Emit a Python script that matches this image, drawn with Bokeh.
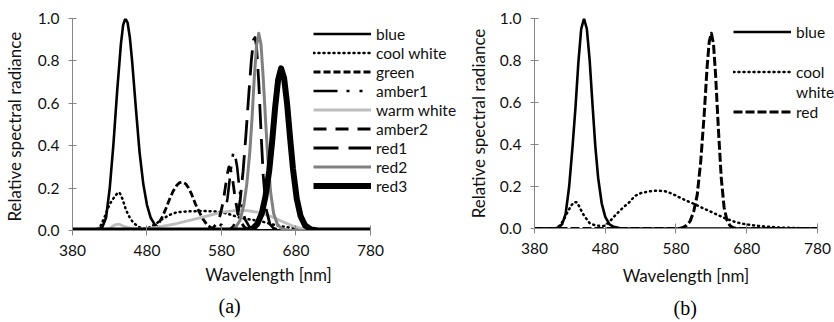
from bokeh.plotting import figure
from bokeh.models import Range1d, FixedTicker, PrintfTickFormatter, Legend, LegendItem, Title
from bokeh.layouts import row
from bokeh.embed import file_html
from bokeh.resources import INLINE

# ---------------- data: panel (a) ----------------
x_ticks = [380, 480, 580, 680, 780]
y_ticks = [0.0, 0.2, 0.4, 0.6, 0.8, 1.0]

a_labels = ["blue", "cool white", "green", "amber1", "warm white", "amber2", "red1", "red2", "red3"]

a_blue_x = [380, 410, 415, 420, 425, 430, 435, 440, 445, 448, 451, 454, 457, 460, 465, 470, 475, 480, 485, 490, 495, 500, 510, 780]
a_blue_y = [0, 0, 0.005, 0.015, 0.06, 0.2, 0.41, 0.66, 0.88, 0.97, 1.0, 0.98, 0.91, 0.8, 0.58, 0.37, 0.22, 0.12, 0.06, 0.03, 0.012, 0.005, 0, 0]

a_cool_x = [380, 410, 417, 423, 430, 436, 440, 443, 447, 452, 457, 462, 470, 478, 485, 492, 500, 510, 520, 535, 550, 565, 580, 592, 605, 618, 632, 645, 660, 675, 690, 705, 720, 750, 780]
a_cool_y = [0, 0, 0.016, 0.063, 0.125, 0.157, 0.175, 0.18, 0.15, 0.095, 0.06, 0.035, 0.015, 0.008, 0.017, 0.032, 0.052, 0.073, 0.086, 0.09, 0.092, 0.091, 0.087, 0.075, 0.06, 0.052, 0.045, 0.032, 0.02, 0.012, 0.007, 0.004, 0.002, 0, 0]

a_green_x = [380, 485, 490, 495, 500, 505, 510, 515, 520, 524, 528, 532, 536, 540, 545, 550, 555, 560, 565, 570, 580, 780]
a_green_y = [0, 0, 0.01, 0.03, 0.06, 0.1, 0.145, 0.185, 0.213, 0.226, 0.228, 0.22, 0.2, 0.17, 0.125, 0.088, 0.055, 0.03, 0.015, 0.006, 0, 0]

a_amber1_x = [380, 570, 575, 580, 584, 588, 591, 594, 596, 598, 601, 604, 608, 612, 617, 622, 630, 780]
a_amber1_y = [0, 0, 0.01, 0.03, 0.07, 0.15, 0.24, 0.33, 0.37, 0.36, 0.3, 0.2, 0.1, 0.05, 0.02, 0.008, 0, 0]

a_warm_x = [380, 420, 430, 437, 443, 450, 460, 470, 480, 490, 500, 520, 540, 560, 580, 600, 615, 630, 645, 660, 675, 690, 710, 740, 780]
a_warm_y = [0, 0, 0.01, 0.027, 0.03, 0.018, 0.008, 0.007, 0.009, 0.013, 0.019, 0.033, 0.05, 0.068, 0.085, 0.095, 0.094, 0.085, 0.068, 0.045, 0.022, 0.008, 0.002, 0, 0]

a_amber2_x = [380, 562, 568, 573, 578, 582, 585, 588, 590, 592, 595, 598, 602, 606, 611, 616, 625, 780]
a_amber2_y = [0, 0, 0.01, 0.03, 0.07, 0.13, 0.2, 0.27, 0.3, 0.29, 0.24, 0.16, 0.08, 0.04, 0.015, 0.005, 0, 0]

a_red1_x = [380, 590, 596, 601, 605, 609, 613, 617, 620, 623, 625, 627, 630, 633, 636, 640, 645, 650, 660, 780]
a_red1_y = [0, 0, 0.02, 0.06, 0.14, 0.28, 0.46, 0.66, 0.8, 0.9, 0.91, 0.87, 0.7, 0.47, 0.26, 0.1, 0.03, 0.01, 0, 0]

a_red2_x = [380, 595, 600, 605, 610, 614, 618, 621, 624, 627, 630, 633, 636, 639, 642, 646, 650, 655, 660, 670, 780]
a_red2_y = [0, 0, 0.02, 0.05, 0.12, 0.22, 0.37, 0.53, 0.72, 0.87, 0.93, 0.88, 0.72, 0.53, 0.35, 0.18, 0.08, 0.03, 0.01, 0, 0]

a_red3_x = [380, 615, 622, 628, 634, 639, 644, 648, 652, 656, 660, 664, 668, 672, 676, 681, 686, 692, 700, 710, 780]
a_red3_y = [0, 0, 0.01, 0.03, 0.08, 0.16, 0.28, 0.42, 0.58, 0.71, 0.765, 0.72, 0.6, 0.44, 0.29, 0.15, 0.07, 0.025, 0.005, 0, 0]

# ---------------- data: panel (b) ----------------
b_labels = ["blue", "cool", "white", "red"]

b_blue_x = [380, 408, 414, 419, 424, 429, 434, 438, 442, 446, 450, 454, 458, 462, 466, 470, 475, 480, 486, 492, 500, 510, 780]
b_blue_y = [0, 0, 0.005, 0.02, 0.07, 0.2, 0.4, 0.58, 0.79, 0.95, 1.0, 0.95, 0.8, 0.59, 0.39, 0.24, 0.12, 0.055, 0.02, 0.008, 0.002, 0, 0]

b_cool_x = [380, 410, 416, 421, 427, 432, 436, 440, 444, 448, 453, 458, 464, 471, 478, 485, 492, 500, 507, 514, 522, 530, 540, 550, 556, 565, 575, 585, 595, 605, 616, 628, 640, 652, 663, 675, 687, 700, 715, 730, 750, 780]
b_cool_y = [0, 0, 0.015, 0.04, 0.08, 0.11, 0.125, 0.125, 0.1, 0.072, 0.048, 0.025, 0.017, 0.013, 0.012, 0.028, 0.055, 0.083, 0.105, 0.125, 0.155, 0.168, 0.176, 0.18, 0.18, 0.177, 0.165, 0.148, 0.132, 0.118, 0.1, 0.082, 0.063, 0.045, 0.032, 0.022, 0.016, 0.011, 0.007, 0.004, 0.002, 0]

b_red_x = [380, 585, 590, 595, 600, 605, 610, 615, 620, 624, 627, 630, 633, 636, 640, 644, 648, 652, 656, 660, 665, 780]
b_red_y = [0, 0, 0.005, 0.015, 0.035, 0.08, 0.16, 0.32, 0.55, 0.77, 0.89, 0.93, 0.88, 0.73, 0.47, 0.24, 0.1, 0.04, 0.015, 0.005, 0, 0]

FONT = "Lato"
AXIS_GRAY = "#868686"
TXT = "#111111"


def style(p, ylabel, xl_standoff, yl_standoff):
    p.outline_line_color = None
    p.xgrid.visible = False
    p.ygrid.visible = False
    p.background_fill_color = "white"
    p.border_fill_color = "white"
    p.xaxis.ticker = FixedTicker(ticks=x_ticks)
    p.xaxis.bounds = (x_ticks[0], x_ticks[-1])
    p.yaxis.ticker = FixedTicker(ticks=y_ticks)
    p.yaxis.formatter = PrintfTickFormatter(format="%.1f")
    for ax in (p.xaxis[0], p.yaxis[0]):
        ax.axis_line_color = AXIS_GRAY
        ax.axis_line_width = 1
        ax.major_tick_line_color = AXIS_GRAY
        ax.minor_tick_line_color = None
        ax.major_label_text_font = FONT
        ax.major_label_text_font_size = "15.5px"
        ax.major_label_text_color = TXT
        ax.axis_label_text_font = FONT
        ax.axis_label_text_font_size = "17px"
        ax.axis_label_text_font_style = "normal"
        ax.axis_label_text_color = TXT
    p.xaxis.major_tick_in = 5
    p.xaxis.major_tick_out = 5
    p.yaxis.major_tick_in = 4
    p.yaxis.major_tick_out = 4
    p.xaxis.major_label_standoff = 9
    p.yaxis.major_label_standoff = 9
    p.xaxis.axis_label = "Wavelength [nm]"
    p.xaxis.axis_label_standoff = xl_standoff
    p.yaxis.axis_label = ylabel
    p.yaxis.axis_label_standoff = yl_standoff


# ---------------- panel (a) ----------------
p1 = figure(frame_width=392, frame_height=212, output_backend="svg", toolbar_location=None,
            x_range=Range1d(380, 906.2), y_range=Range1d(0, 1),
            min_border_left=71, min_border_right=0, min_border_top=18, min_border_bottom=40)
style(p1, "Relative  spectral radiance", 5, 10)

a_series = [
    (a_blue_x, a_blue_y, dict(line_color="black", line_width=2.6)),
    (a_cool_x, a_cool_y, dict(line_color="black", line_width=2.5, line_dash="1 4", line_cap="round")),
    (a_green_x, a_green_y, dict(line_color="black", line_width=2.8, line_dash="7 3")),
    (a_amber1_x, a_amber1_y, dict(line_color="black", line_width=2.6, line_dash="24 9 3 10 3 9")),
    (a_warm_x, a_warm_y, dict(line_color="#bdbdbd", line_width=2.8)),
    (a_amber2_x, a_amber2_y, dict(line_color="black", line_width=2.8, line_dash="13 9")),
    (a_red1_x, a_red1_y, dict(line_color="black", line_width=2.8, line_dash="25 10")),
    (a_red2_x, a_red2_y, dict(line_color="#808080", line_width=3)),
    (a_red3_x, a_red3_y, dict(line_color="black", line_width=6)),
]
a_items = []
for (xs, ys, kw), lab in zip(a_series, a_labels):
    r = p1.line(xs, ys, line_join="round", **kw)
    a_items.append(LegendItem(label=lab, renderers=[r]))

leg1 = Legend(items=a_items, location=(241, 35), glyph_width=58, glyph_height=19, label_height=19,
              spacing=0, padding=0, margin=0, label_standoff=5, border_line_alpha=0,
              background_fill_alpha=0, label_text_font=FONT, label_text_font_size="15.5px",
              label_text_color=TXT)
p1.add_layout(leg1, "center")
p1.add_layout(Title(text="(a)", align="left", offset=146, standoff=11, text_font="Liberation Serif",
                    text_font_size="20px", text_font_style="normal", text_color="black"), "below")

# ---------------- panel (b) ----------------
p2 = figure(frame_width=303, frame_height=210, output_backend="svg", toolbar_location=None,
            x_range=Range1d(380, 808.3), y_range=Range1d(0, 1),
            min_border_left=66, min_border_right=0, min_border_top=15, min_border_bottom=40)
style(p2, "Relative spectral radiance", 8, 8)

rb_blue = p2.line(b_blue_x, b_blue_y, line_color="black", line_width=2.6, line_join="round")
rb_cool = p2.line(b_cool_x, b_cool_y, line_color="black", line_width=2.5, line_dash="1 4",
                  line_cap="round", line_join="round")
rb_red = p2.line(b_red_x, b_red_y, line_color="black", line_width=3, line_dash="9 3", line_join="round")
rb_blank = p2.line([380], [0], line_alpha=0)

b_items = [
    LegendItem(label=b_labels[0], renderers=[rb_blue]),
    LegendItem(label=" ", renderers=[rb_blank]),
    LegendItem(label=b_labels[1], renderers=[rb_cool]),
    LegendItem(label=b_labels[2], renderers=[rb_blank]),
    LegendItem(label=b_labels[3], renderers=[rb_red]),
]
leg2 = Legend(items=b_items, location=(199, 107), glyph_width=58, glyph_height=19, label_height=19,
              spacing=1, padding=0, margin=0, label_standoff=5, border_line_alpha=0,
              background_fill_alpha=0, label_text_font=FONT, label_text_font_size="15.5px",
              label_text_color=TXT)
p2.add_layout(leg2, "center")
p2.add_layout(Title(text="(b)", align="left", offset=139, standoff=13, text_font="Liberation Serif",
                    text_font_size="20px", text_font_style="normal", text_color="black"), "below")

layout = row(p1, p2)
open("out.html", "w").write(file_html(layout, INLINE))
